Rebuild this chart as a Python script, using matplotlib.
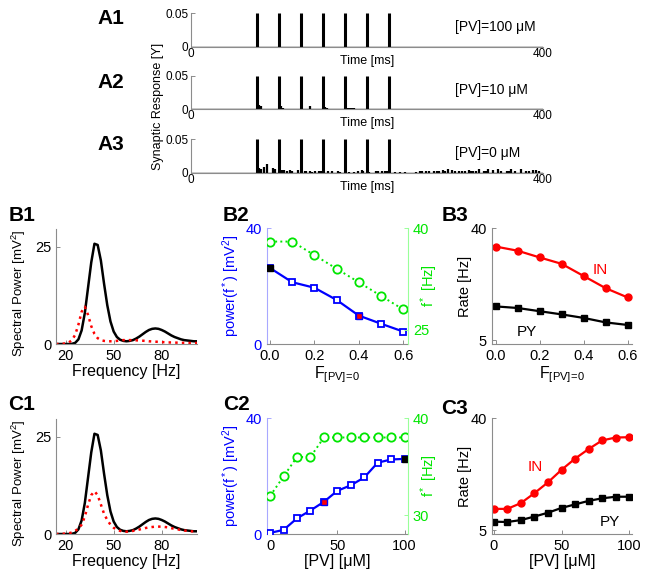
import matplotlib
matplotlib.use("Agg")
import matplotlib.pyplot as plt

plt.rcParams['font.family'] = ['Liberation Sans', 'DejaVu Sans']
plt.rcParams['mathtext.fontset'] = 'custom'
plt.rcParams['mathtext.rm'] = 'Liberation Sans'
plt.rcParams['mathtext.it'] = 'Liberation Sans:italic'

W, H = 649, 575

# ---- A: synaptic response traces ----
spike_times = [75, 100, 125, 150, 175, 200, 225]
spike_height = 0.05
pv_labels = ['[PV]=100 μM', '[PV]=10 μM', '[PV]=0 μM']

a1_bump_t = []
a1_bump_h = []
a2_bump_t = [77, 79, 102, 104, 135, 152, 154, 177, 179, 181, 183, 185]
a2_bump_h = [0.006, 0.004, 0.004, 0.002, 0.004, 0.003, 0.002, 0.002, 0.002, 0.002, 0.002, 0.001]
a3_bump_t = [77, 80, 83, 86, 93, 95, 103, 106, 109, 112, 115, 122, 129, 131, 135, 137,
             141, 146, 148, 156, 160, 167, 169, 179, 185, 190, 194, 196, 202, 210, 213,
             217, 221, 223, 232, 238, 243, 256, 260, 263, 267, 270, 276, 279, 282, 286,
             289, 292, 297, 300, 305, 308, 311, 316, 318, 321, 324, 327, 333, 335, 338,
             343, 349, 352, 359, 361, 364, 368, 375, 381, 384, 389, 392, 396]
a3_bump_h = [0.0064, 0.006, 0.009, 0.013, 0.0064, 0.006, 0.004, 0.004, 0.003, 0.0035,
             0.003, 0.004, 0.0025, 0.002, 0.002, 0.0015, 0.002, 0.0025, 0.002, 0.003,
             0.002, 0.002, 0.0015, 0.001, 0.0015, 0.002, 0.004, 0.003, 0.0015, 0.002,
             0.002, 0.003, 0.002, 0.002, 0.001, 0.001, 0.001, 0.0015, 0.002, 0.002,
             0.003, 0.002, 0.003, 0.002, 0.003, 0.004, 0.003, 0.006, 0.004, 0.003,
             0.003, 0.002, 0.003, 0.004, 0.003, 0.003, 0.002, 0.005, 0.003, 0.002,
             0.005, 0.004, 0.005, 0.003, 0.003, 0.002, 0.005, 0.003, 0.005, 0.003,
             0.002, 0.004, 0.004, 0.003]

# ---- B1 / C1: spectra ----
freq = [14, 16, 18, 20, 22, 24, 26, 28, 30, 32, 34, 36, 38, 40, 42, 44, 46, 48, 50, 52,
        54, 56, 58, 60, 62, 64, 66, 68, 70, 72, 74, 76, 78, 80, 82, 84, 86, 88, 90, 92,
        94, 96, 98, 100, 102]
spec_ctrl = [0, 0, 0, 0, 0, 0.05, 0.3, 1.2, 3.5, 8, 14.5, 21, 25.8, 25.5, 21.5, 15.5, 10,
             5.8, 3.2, 1.8, 1.1, 0.8, 0.7, 0.8, 1.0, 1.4, 1.9, 2.5, 3.1, 3.6, 3.9, 4.0,
             3.9, 3.6, 3.2, 2.7, 2.2, 1.8, 1.5, 1.2, 1.0, 0.9, 0.8, 0.7, 0.7]
spec_b1 = [0, 0, 0.05, 0.15, 0.4, 1.0, 2.4, 5.0, 8.3, 9.6, 7.5, 4.6, 2.6, 1.5, 1.0, 0.8,
           0.7, 0.7, 0.7, 0.8, 0.9, 1.0, 1.0, 1.0, 1.0, 0.95, 0.9, 0.85, 0.8, 0.7, 0.65,
           0.6, 0.55, 0.5, 0.45, 0.4, 0.4, 0.35, 0.35, 0.3, 0.3, 0.3, 0.25, 0.25, 0.25]
spec_c1 = [0, 0.02, 0.05, 0.1, 0.2, 0.4, 0.8, 1.4, 2.4, 4.5, 7.5, 10.0, 11.0, 10.0, 7.6,
           5.2, 3.6, 2.4, 1.6, 1.1, 0.8, 0.65, 0.6, 0.65, 0.8, 0.95, 1.15, 1.35, 1.55,
           1.7, 1.8, 1.9, 1.9, 1.9, 1.8, 1.7, 1.5, 1.35, 1.2, 1.0, 0.9, 0.8, 0.7, 0.65, 0.6]

# ---- B2 / B3 ----
frac = [0, 0.1, 0.2, 0.3, 0.4, 0.5, 0.6]
b2_power = [26.2, 21.3, 19.4, 15.2, 9.8, 7.0, 4.3]
b2_fpeak = [38, 38, 36, 34, 32, 30, 28]
b3_in = [34.2, 32.9, 30.8, 28.8, 25.0, 21.2, 18.3]
b3_py = [15.5, 15.0, 14.0, 13.0, 11.9, 10.5, 9.7]

# ---- C2 / C3 ----
pv = [0, 10, 20, 30, 40, 50, 60, 70, 80, 90, 100]
c2_power = [0.4, 1.4, 5.4, 8.1, 11.1, 14.9, 16.8, 19.5, 24.6, 25.7, 25.9]
c2_fpeak = [32, 34, 36, 36, 38, 38, 38, 38, 38, 38, 38]
c3_in = [11.6, 11.6, 13.4, 16.5, 19.9, 23.8, 27.3, 30.3, 33.0, 33.9, 34.0]
c3_py = [7.6, 7.5, 8.1, 9.2, 10.4, 11.9, 13.0, 14.1, 14.9, 15.4, 15.4]

BLUE = '#0000ff'
GREEN = '#00e600'
RED = '#ff0000'
AXC = '#8c8c8c'
F_LABEL = r'F$_{\rm [PV]\!=\!0}$'

fig = plt.figure(figsize=(W / 100, H / 100), dpi=100)


def add_ax(x0, x1, y0, y1):
    return fig.add_axes([x0 / W, 1 - y1 / H, (x1 - x0) / W, (y1 - y0) / H])


def style(ax, fs=10.5):
    for s in ['top', 'right']:
        ax.spines[s].set_visible(False)
    for s in ['left', 'bottom']:
        ax.spines[s].set_color(AXC)
        ax.spines[s].set_linewidth(0.8)
    ax.tick_params(direction='in', length=3, width=0.7, colors=AXC,
                   labelcolor='black', labelsize=fs)
    ax.patch.set_alpha(0)


def panel_label(txt, x, y):
    fig.text(x / W, 1 - y / H, txt, fontsize=15, fontweight='bold',
             ha='center', va='center')


# A panels
a_rows = [(13, 46.7), (75.7, 109), (139, 172.7)]
bumps = [(a1_bump_t, a1_bump_h), (a2_bump_t, a2_bump_h), (a3_bump_t, a3_bump_h)]
for i, (y0, y1) in enumerate(a_rows):
    ax = add_ax(191, 543, y0, y1)
    style(ax, fs=8.5)
    ax.plot([0, 400], [0, 0], color='black', lw=1.0)
    ax.vlines(spike_times, 0, spike_height, color='black', lw=2.2)
    bt, bh = bumps[i]
    if bt:
        ax.vlines(bt, 0, bh, color='black', lw=1.6)
    ax.set_xlim(0, 400)
    ax.set_ylim(0, 0.05)
    ax.set_xticks([0, 400])
    ax.set_yticks([0, 0.05])
    ax.set_yticklabels(['0', '0.05'])
    ax.tick_params(axis='x', length=0, pad=1)
    ax.tick_params(axis='y', pad=2)
    ax.set_xlabel('Time [ms]', fontsize=9, labelpad=-4)
    ax.text(300, 0.029, pv_labels[i], fontsize=10, va='center')
    panel_label('A%d' % (i + 1), 111, [18, 82, 145][i])

fig.text(158 / W, 1 - 106 / H, 'Synaptic Response [Y]', rotation=90,
         fontsize=9, ha='center', va='center')

# spectra
for (y0, y1), spec_red, lab, ly in [((229, 344), spec_b1, 'B1', 215),
                                    ((419, 534), spec_c1, 'C1', 405)]:
    ax = add_ax(56, 197, y0, y1)
    style(ax)
    ax.plot(freq, spec_ctrl, color='black', lw=1.8)
    ax.plot(freq, spec_red, color=RED, lw=1.8, ls=':')
    ax.set_xlim(14, 102)
    ax.set_ylim(0, 29.6)
    ax.set_xticks([20, 50, 80])
    ax.set_yticks([0, 25])
    ax.set_xlabel('Frequency [Hz]', fontsize=11.5, labelpad=1)
    ax.set_ylabel('Spectral Power [mV$^2$]', fontsize=9.5)
    ax.yaxis.set_label_coords(-0.2, 0.44)
    panel_label(lab, 22, ly)


def power_panel(y0, y1, x, power, fpk, xlim, xticks, rlim, rticks, xlabel,
                black_idx, red_idx, lab, ly):
    ax = add_ax(266.7, 408, y0, y1)
    style(ax)
    ax.spines['left'].set_color('#a8a8ff')
    ax.tick_params(axis='y', colors='#a8a8ff', labelcolor=BLUE)
    ax.plot(x, power, color=BLUE, lw=1.6, marker='s', ms=5, mfc='white',
            mec=BLUE, mew=1.3, zorder=3)
    ax.plot([x[black_idx]], [power[black_idx]], 's', ms=5, mfc='black',
            mec='black', zorder=4)
    ax.plot([x[red_idx]], [power[red_idx]], 's', ms=5, mfc=RED,
            mec=BLUE, mew=1.0, zorder=4)
    ax.set_xlim(*xlim)
    ax.set_ylim(0, 40)
    ax.set_xticks(xticks)
    ax.set_yticks([0, 40])
    ax.set_ylabel('power(f$^*$) [mV$^2$]', color=BLUE, fontsize=10.5)
    ax.yaxis.set_label_coords(-0.175, 0.5)
    ax.set_xlabel(xlabel, fontsize=11.5, labelpad=1)

    ax2 = ax.twinx()
    for s in ['top', 'left', 'bottom']:
        ax2.spines[s].set_visible(False)
    ax2.spines['right'].set_color('#99ff99')
    ax2.spines['right'].set_linewidth(0.8)
    ax2.tick_params(direction='in', length=3, width=0.7, colors='#99ff99',
                    labelcolor=GREEN, labelsize=10.5)
    ax2.plot(x, fpk, color=GREEN, lw=1.4, ls=':', marker='o', ms=6,
             mfc='white', mec=GREEN, mew=1.3)
    ax2.set_ylim(*rlim)
    ax2.set_yticks(rticks)
    ax2.set_ylabel('f$^*$ [Hz]', color=GREEN, fontsize=10.5, rotation=90)
    ax2.yaxis.set_label_coords(1.075, 0.5)
    panel_label(lab, 236, ly)


power_panel(228, 344, frac, b2_power, b2_fpeak, (-0.015, 0.622),
            [0, 0.2, 0.4, 0.6], (22.9, 40), [25, 40],
            F_LABEL, 0, 4, 'B2', 215)
power_panel(418, 534, pv, c2_power, c2_fpeak, (-2.5, 102.5),
            [0, 50, 100], (28.1, 40), [30, 40],
            '[PV] [μM]', 10, 4, 'C2', 405)


def rate_panel(y0, y1, x, r_in, r_py, xlim, xticks, xlabel, in_xy, py_xy, lab, ly):
    ax = add_ax(491.7, 632, y0, y1)
    style(ax)
    ax.plot(x, r_in, color=RED, lw=1.6, marker='o', ms=5, mfc=RED, mec=RED)
    ax.plot(x, r_py, color='black', lw=1.6, marker='s', ms=4.5, mfc='black',
            mec='black')
    ax.set_xlim(*xlim)
    ax.set_ylim(3.75, 40)
    ax.set_xticks(xticks)
    ax.set_yticks([5, 40])
    ax.set_ylabel('Rate [Hz]', fontsize=10.5)
    ax.yaxis.set_label_coords(-0.14, 0.5)
    ax.set_xlabel(xlabel, fontsize=11.5, labelpad=1)
    ax.text(in_xy[0], in_xy[1], 'IN', color=RED, fontsize=11, ha='center', va='center')
    ax.text(py_xy[0], py_xy[1], 'PY', color='black', fontsize=11, ha='center', va='center')
    panel_label(lab, 455, ly)


rate_panel(228, 344, frac, b3_in, b3_py, (-0.018, 0.62), [0, 0.2, 0.4, 0.6],
           F_LABEL, (0.477, 26.9), (0.14, 7.6), 'B3', 215)
rate_panel(418, 534, pv, c3_in, c3_py, (-1.5, 102), [0, 50, 100],
           '[PV] [μM]', (30.7, 24.8), (86, 7.6), 'C3', 409)

fig.savefig('out.png', dpi=100)
